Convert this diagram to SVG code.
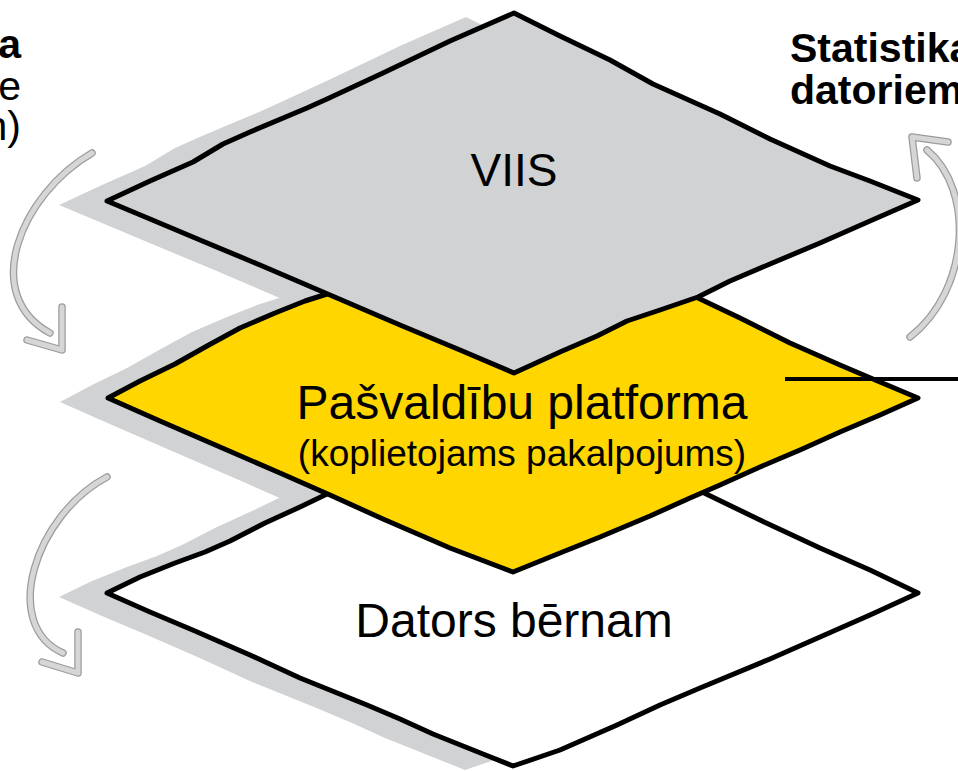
<svg xmlns="http://www.w3.org/2000/svg" xmlns:xlink="http://www.w3.org/1999/xlink" width="958" height="771" viewBox="0 0 958 771">
<style>
.lbl{font-family:"Liberation Sans",Arial,sans-serif;fill:#000}
.big{font-size:48px}
.viis{font-size:46px}
.sub{font-size:37px}
.side{font-size:41px}
.bold{font-weight:bold}
.edge{stroke:#000;stroke-width:5;stroke-linejoin:round;stroke-linecap:round}
.arcO{fill:none;stroke:#9c9c9c;stroke-width:7.5;stroke-linecap:round;stroke-linejoin:round}
.arcI{fill:none;stroke:#d6d6d6;stroke-width:5;stroke-linecap:round;stroke-linejoin:round}
</style>
<defs>
<path id="d1" d="M107,201 L150,181 L193,162 L223,144 L250,132 L307,108 L327,99 L383,73 L450,41 L514,13 L560,36 L610,60 L653,84 L720,114 L770,139 L830,166 L870,181 L918,200 L870,221 L820,243 L770,264 L730,281 L698,297 L660,310 L627,321 L597,336 L560,352 L514,373 L460,350 L400,325 L330,295 L260,265 L200,240 L150,219 Z"/>
<path id="d2" d="M108,398 L140,381 L175,364 L207,346 L240,328 L275,313 L305,301 L327,294 L420,252 L514,210 L600,255 L698,298 L740,318 L790,343 L840,365 L880,382 L918,398 L880,415 L840,432 L800,450 L760,467 L720,485 L690,498 L650,516 L600,537 L560,553 L513,572 L450,548 L383,519 L330,495 L280,473 L220,447 L160,421 Z"/>
<path id="d3" d="M107,593 L140,577 L175,563 L205,552 L230,541 L265,523 L300,507 L327,494 L420,455 L514,415 L600,452 L698,490 L760,520 L820,548 L870,570 L918,593 L870,615 L820,637 L770,659 L700,688 L660,705 L617,725 L560,750 L513,766 L483,754 L433,734 L400,719 L367,705 L300,678 L250,655 L195,631 L150,612 Z"/>
</defs>
<g id="shadows" fill="#d1d2d4">
<use xlink:href="#d3" transform="translate(-48,4)"/>
<use xlink:href="#d2" transform="translate(-48,4)"/>
<use xlink:href="#d1" transform="translate(-48,4)"/>
</g>
<g id="node-dators">
<use xlink:href="#d3" fill="#ffffff" class="edge"/>
<text class="lbl big" x="514" y="637" text-anchor="middle">Dators bērnam</text>
</g>
<g id="node-platforma">
<use xlink:href="#d2" fill="#ffd600" class="edge"/>
<text class="lbl big" x="522" y="419" text-anchor="middle">Pašvaldību platforma</text>
<text class="lbl sub" x="522" y="466" text-anchor="middle">(koplietojams pakalpojums)</text>
</g>
<g id="node-viis">
<use xlink:href="#d1" fill="#d1d2d4" class="edge"/>
<text class="lbl viis" x="514" y="186" text-anchor="middle">VIIS</text>
</g>
<g id="connectors">
<path class="arcO" d="M92,153 C20,195 -20,295 50,333 M62,307 L62,350 L27,340"/>
<path class="arcI" d="M92,153 C20,195 -20,295 50,333 M62,307 L62,350 L27,340"/>
<path class="arcO" d="M107,477 C35,515 0,625 63,653 M78,632 L78,673 L42,662"/>
<path class="arcI" d="M107,477 C35,515 0,625 63,653 M78,632 L78,673 L42,662"/>
<path class="arcO" d="M910,337 C970,290 975,190 927,150 M917,178 L912,137 L948,142"/>
<path class="arcI" d="M910,337 C970,290 975,190 927,150 M917,178 L912,137 L948,142"/>
<line x1="785" y1="379" x2="958" y2="379" stroke="#000" stroke-width="4"/>
</g>
<g id="label-left">
<text class="lbl side bold" x="21" y="58" text-anchor="end">a</text>
<text class="lbl side" x="21" y="100" text-anchor="end">e</text>
<text class="lbl side" x="21" y="140" text-anchor="end">n)</text>
</g>
<g id="label-right">
<text class="lbl side bold" x="790" y="62">Statistika</text>
<text class="lbl side bold" x="790" y="104">datoriem</text>
</g>
</svg>
